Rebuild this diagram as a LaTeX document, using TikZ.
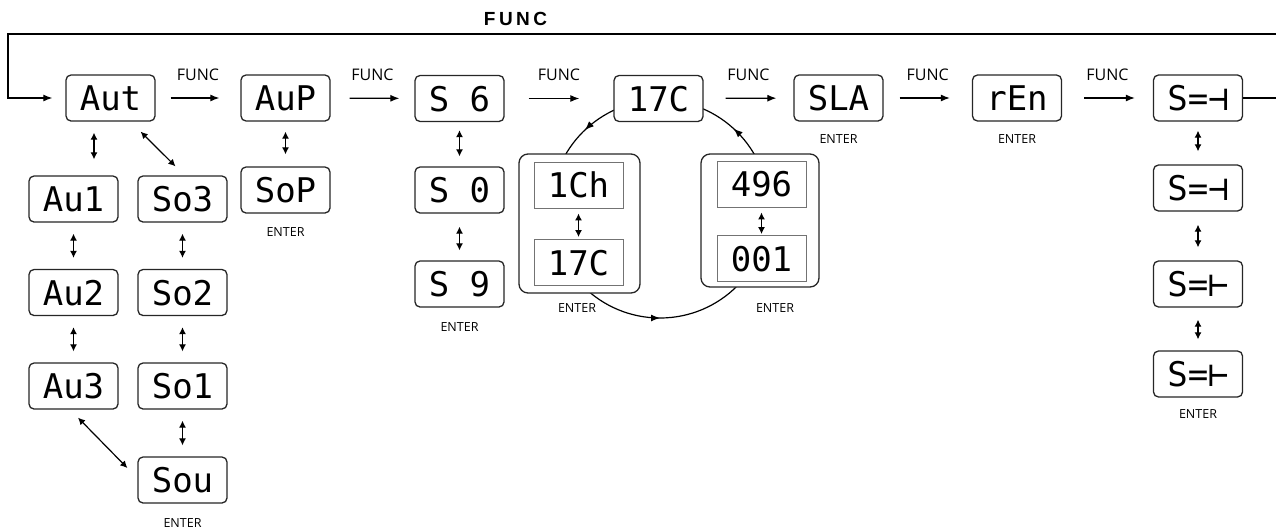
\documentclass[tikz,border=0pt]{standalone}
\usepackage{fontspec}
\setmainfont{Open Sans}
\newfontfamily\segfont{DejaVu Sans Mono}
\newfontfamily\headfont[LetterSpace=18]{Liberation Sans}
\usetikzlibrary{arrows.meta,decorations.markings}

\begin{document}
\begin{tikzpicture}[x=1pt,y=-1pt,>={Latex[length=9pt,width=7pt]},line width=1.2pt,
  disp/.style={draw=black!85,rounded corners=5pt,fill=white,line width=1.3pt,
    minimum width=89pt,minimum height=46pt,inner sep=0pt,
    font=\segfont\fontsize{34}{34}\selectfont,text height=25pt,text depth=0pt},
  cell/.style={disp,draw=black!55,line width=0.9pt,sharp corners},
  frame/.style={draw=black!85,rounded corners=9pt,fill=white,line width=1.3pt},
  func/.style={above=15pt,inner sep=2pt,font=\fontsize{16}{18}\selectfont},
  enter/.style={inner sep=2pt,font=\fontsize{12.5}{14}\selectfont},
  next/.style={->},
  updown/.style={{Latex[length=7pt,width=7pt]}-{Latex[length=7pt,width=7pt]},
    shorten <=11pt,shorten >=11pt},
  ring/.style={postaction=decorate,decoration={markings,
    mark=at position 0.25 with {\arrowreversed{Latex[length=9pt,width=7pt]}},
    mark=at position 0.629 with {\arrowreversed{Latex[length=9pt,width=7pt]}},
    mark=at position 0.868 with {\arrowreversed{Latex[length=9pt,width=7pt]}}}}]
\useasboundingbox (0,0) rectangle (1276,528);

% channel ring (drawn first, boxes cover it)
\coordinate (hub) at (660,209);
\draw[ring] (hub) circle[radius=109];

% main row
\node[disp] (Aut) at (110.5,98) {Aut};
\node[disp] (AuP) at (285.5,98) {AuP};
\node[disp] (S6) at (459.5,98.5) {S 6};
\node[disp] (C17) at (658.5,98.5) {17C};
\node[disp] (SLA) at (838.5,98) {SLA};
\node[disp] (rEn) at (1017,98) {rEn};
\node[disp] (Sa) at (1198,98) {S=⊣};

% auto columns
\node[disp] (Au1) at (73.5,199) {Au1};
\node[disp] (Au2) at (73.5,292.5) {Au2};
\node[disp] (Au3) at (73.5,386) {Au3};
\node[disp] (So3) at (182.5,199) {So3};
\node[disp] (So2) at (182.5,292.5) {So2};
\node[disp] (So1) at (182.5,386) {So1};
\node[disp] (Sou) at (182.5,480) {Sou};
\node[disp] (SoP) at (285.5,190) {SoP};

% sound column
\node[disp] (S0) at (459.5,190) {S 0};
\node[disp] (S9) at (459.5,284) {S 9};

% channel groups
\node[frame,minimum width=121pt,minimum height=139pt] (grpL) at (579.5,223.5) {};
\node[frame,minimum width=118pt,minimum height=133pt] (grpR) at (760,220.5) {};
\node[cell] (Ch1) at (578.5,185) {1Ch};
\node[cell] (C17b) at (578.5,262.5) {17C};
\node[cell] (D496) at (761.5,184) {496};
\node[cell] (D001) at (761.5,258.5) {001};

% right column
\node[disp] (Sb) at (1198,188) {S=⊣};
\node[disp] (Sc) at (1198,284) {S=⊢};
\node[disp] (Sd) at (1198,374) {S=⊢};

% ENTER labels
\node[enter,below=11pt] (enSoP) at (SoP.south) {ENTER};
\node[enter,below=12pt] (enSou) at (Sou.south) {ENTER};
\node[enter,below=12pt] (enS9) at (S9.south) {ENTER};
\node[enter] (enL) at (577,308) {ENTER};
\node[enter] (enR) at (775,308) {ENTER};
\node[enter,below=10pt] (enSLA) at (SLA.south) {ENTER};
\node[enter,below=10pt] (enREN) at (rEn.south) {ENTER};
\node[enter,below=9pt] (enSd) at (Sd.south) {ENTER};

% FUNC steps
\foreach \a/\b/\sl/\sr in {Aut/AuP/15/21,AuP/S6/19/15,S6/C17/24/34,
    C17/SLA/22/17,SLA/rEn/16/22,rEn/Sa/22/18}
  \draw[next,shorten <=\sl pt,shorten >=\sr pt] (\a) -- node[func]{FUNC} (\b);

% back to start
\coordinate (turnR) at (1278,34);
\coordinate (turnL) at (8,34);
\draw[next,shorten >=13pt] (Sa.east) -- (turnR |- Sa.east) -- (turnR) -- (turnL) |- (Aut.west);
\node[font=\headfont\bfseries\fontsize{19}{21}\selectfont] (loop) at (515.5,18.5) {FUNC};

% up/down choices
\draw[updown,shorten >=16pt] ([xshift=-16.5pt]Aut.south) -- ([xshift=20.5pt]Au1.north);
\draw[updown,shorten <=0pt,shorten >=0pt] ([shift={(-15,10)}]Aut.south east) -- ([shift={(-7,-9)}]So3.north);
\draw[updown,shorten <=10pt,shorten >=12pt] (AuP) -- (SoP);
\draw[updown] (Au1) -- (Au2);
\draw[updown] (Au2) -- (Au3);
\draw[updown] (So3) -- (So2);
\draw[updown] (So2) -- (So1);
\draw[updown] (So1) -- (Sou);
\draw[updown,shorten <=0pt,shorten >=0pt] ([shift={(4.5,8)}]Au3.south) -- ([shift={(-10,-12)}]Sou.west);
\draw[updown,shorten <=8pt,shorten >=10pt] (S6) -- (S0);
\draw[updown,shorten <=13pt,shorten >=10pt] (S0) -- (S9);
\draw[updown,shorten <=5pt,shorten >=2pt] (Ch1) -- (C17b);
\draw[updown,shorten <=5pt,shorten >=1pt] (D496) -- (D001);
\draw[updown,shorten <=9pt,shorten >=13pt] (Sa) -- (Sb);
\draw[updown,shorten <=13pt,shorten >=13pt] (Sb) -- (Sc);
\draw[updown,shorten <=12pt,shorten >=11pt] (Sc) -- (Sd);
\end{tikzpicture}
\end{document}
